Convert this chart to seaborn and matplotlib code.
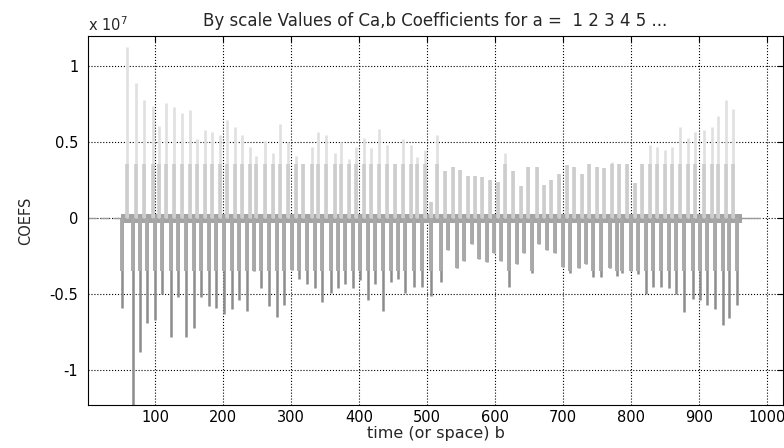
import numpy as np
import pandas as pd
import matplotlib.pyplot as plt
import seaborn as sns

# values are in units of 1e7 (the axis shows "x 10^7")
pos_b = [59, 72, 83, 96, 105, 116, 128, 139, 151, 162, 173, 184, 195, 206, 218,
         227, 239, 249, 261, 273, 284, 295, 307, 318, 330, 340, 352, 364, 374, 385,
         396, 407, 418, 429, 441, 453, 464, 476, 486, 497, 506, 515, 526, 538, 548,
         560, 571, 581, 593, 604, 615, 627, 638, 649, 662, 672, 683, 694, 706, 717,
         728, 739, 750, 761, 772, 783, 795, 806, 817, 828, 839, 851, 861, 872, 884,
         895, 907, 919, 929, 940, 951]
pos_peak = [1.13, 0.89, 0.78, 0.74, 0.61, 0.76, 0.73, 0.69, 0.71, 0.52, 0.58, 0.57, 0.55, 0.65, 0.60,
            0.55, 0.47, 0.41, 0.51, 0.43, 0.62, 0.50, 0.41, 0.36, 0.47, 0.57, 0.55, 0.43, 0.50, 0.39,
            0.47, 0.53, 0.46, 0.59, 0.48, 0.36, 0.52, 0.48, 0.40, 0.45, 0.11, 0.55, 0.31, 0.34, 0.32,
            0.28, 0.28, 0.27, 0.25, 0.24, 0.43, 0.31, 0.21, 0.34, 0.34, 0.22, 0.25, 0.29, 0.35, 0.34,
            0.29, 0.36, 0.34, 0.33, 0.37, 0.36, 0.36, 0.23, 0.36, 0.48, 0.47, 0.45, 0.47, 0.60, 0.53,
            0.57, 0.58, 0.60, 0.67, 0.78, 0.72]

neg_b = [51, 67, 78, 88, 100, 110, 123, 134, 145, 157, 168, 179, 190, 201, 213,
         223, 235, 245, 256, 268, 279, 290, 301, 312, 324, 335, 345, 358, 369, 380,
         391, 402, 413, 424, 435, 447, 457, 468, 481, 492, 506, 520, 531, 544, 555,
         566, 577, 588, 598, 609, 621, 632, 643, 655, 665, 677, 688, 700, 711, 723,
         734, 745, 756, 769, 779, 787, 800, 811, 822, 833, 845, 856, 867, 879, 891,
         902, 912, 924, 935, 945, 957]
neg_tip = [-0.59, -1.25, -0.88, -0.69, -0.67, -0.50, -0.78, -0.52, -0.78, -0.72, -0.52, -0.58, -0.59, -0.63, -0.60,
           -0.54, -0.61, -0.35, -0.46, -0.58, -0.65, -0.57, -0.34, -0.40, -0.43, -0.46, -0.55, -0.49, -0.46, -0.43,
           -0.46, -0.41, -0.54, -0.43, -0.61, -0.42, -0.40, -0.49, -0.45, -0.45, -0.51, -0.42, -0.21, -0.33, -0.28,
           -0.17, -0.27, -0.29, -0.23, -0.28, -0.45, -0.30, -0.23, -0.36, -0.17, -0.21, -0.23, -0.32, -0.36, -0.33,
           -0.30, -0.39, -0.39, -0.33, -0.38, -0.36, -0.35, -0.37, -0.50, -0.45, -0.45, -0.46, -0.50, -0.62, -0.53,
           -0.54, -0.57, -0.60, -0.70, -0.66, -0.57]

lead_b = [1, 50]        # flat zero part before the signal
tail_b = [960, 990]     # flat zero part after the signal
band_b = [50, 963]      # small oscillation band around zero
band_amp = 0.03

x_ticks = [100, 200, 300, 400, 500, 600, 700, 800, 900, 1000]
y_ticks = [-1, -0.5, 0, 0.5, 1]
y_tick_labels = ['-1', '-0.5', '0', '0.5', '1']


def spike_frame(b, tip):
    """Long-form frame: one vertical segment (0 -> tip) per spike."""
    b = np.asarray(b, dtype=float)
    tip = np.asarray(tip, dtype=float)
    return pd.DataFrame({
        'b': np.repeat(b, 2),
        'coef': np.column_stack([np.zeros(len(tip)), tip]).ravel(),
        'spike': np.repeat(np.arange(len(b)), 2),
    })


def draw_spikes(ax, b, tip, color, lw):
    sns.lineplot(data=spike_frame(b, tip), x='b', y='coef', units='spike',
                 estimator=None, sort=False, color=color, lw=lw,
                 solid_capstyle='butt', ax=ax, legend=False)


sns.set_style('white')
plt.rcParams['font.family'] = ['DejaVu Sans']

fig = plt.figure(figsize=(7.84, 4.48), dpi=100)
ax = fig.add_axes([88 / 784, 43 / 448, 695 / 784, 369 / 448])

pos_peak_arr = np.array(pos_peak)
neg_tip_arr = np.array(neg_tip)

# positive side: light tall part, slightly darker low part
draw_spikes(ax, pos_b, pos_peak_arr, '#e0e0e0', 1.9)
draw_spikes(ax, pos_b, np.minimum(pos_peak_arr, 0.36), '#cdcdcd', 2.6)
# negative side: dark tips, medium gray near zero
draw_spikes(ax, neg_b, neg_tip_arr, '#8c8c8c', 1.8)
draw_spikes(ax, neg_b, np.maximum(neg_tip_arr, -0.35), '#a9a9a9', 2.8)

ax.fill_between(band_b, -band_amp, band_amp, color='#a4a4a4', lw=0)
sns.lineplot(x=lead_b, y=[0, 0], color='#9a9a9a', lw=1.0, ls=(0, (6, 3)), ax=ax)
sns.lineplot(x=tail_b, y=[0, 0], color='#9a9a9a', lw=1.0, ax=ax)

ax.set_xlim(1, 1024)
ax.set_ylim(-1.23, 1.2)
ax.set_xticks(x_ticks)
ax.set_yticks(y_ticks)
ax.set_yticklabels(y_tick_labels)
ax.grid(True, color='black', ls=':', lw=0.8)
ax.set_axisbelow(True)
ax.tick_params(direction='in', length=4, labelsize=10.5, top=True, right=True,
               labelcolor='black', color='black')
ax.tick_params(axis='y', pad=7)
for sp in ax.spines.values():
    sp.set_color('black')
    sp.set_linewidth(0.8)

ax.set_xlabel('time (or space) b', fontsize=11.5, labelpad=1)
ax.set_ylabel('COEFS', fontsize=10.5, labelpad=12)
ax.set_title('By scale Values of Ca,b Coefficients for a =  1 2 3 4 5 ...',
             fontsize=12, pad=7)
ax.text(0.0, 1.006, 'x 10$^7$', transform=ax.transAxes, fontsize=10.5,
        ha='left', va='bottom')

fig.savefig('out.png', dpi=100)
